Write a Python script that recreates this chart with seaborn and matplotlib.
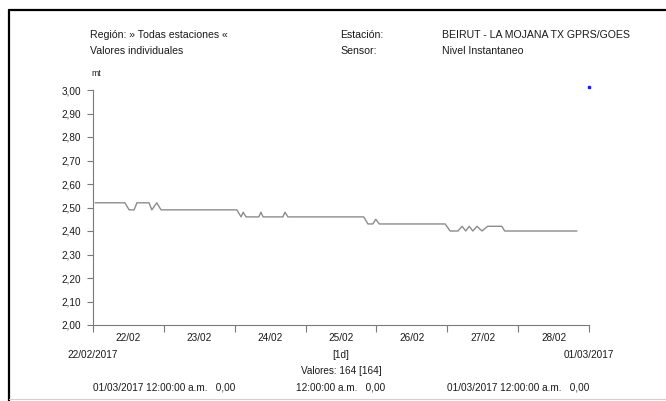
import matplotlib
matplotlib.use("Agg")
import matplotlib.pyplot as plt
import matplotlib.transforms as mtransforms
from matplotlib.lines import Line2D
import numpy as np
import pandas as pd
import seaborn as sns

# dias desde 22/02/2017 00:00
t_dias = [0.03, 0.45, 0.51, 0.58, 0.62, 0.79, 0.83, 0.90, 0.96, 2.03,
          2.09, 2.12, 2.16, 2.34, 2.37, 2.40, 2.68, 2.71, 2.75, 3.82,
          3.88, 3.95, 3.99, 4.04, 4.97, 5.04, 5.15, 5.21, 5.26, 5.31,
          5.36, 5.42, 5.49, 5.57, 5.77, 5.81, 6.83]
nivel = [2.52, 2.52, 2.49, 2.49, 2.52, 2.52, 2.49, 2.52, 2.49, 2.49,
         2.46, 2.48, 2.46, 2.46, 2.48, 2.46, 2.46, 2.48, 2.46, 2.46,
         2.43, 2.43, 2.45, 2.43, 2.43, 2.40, 2.40, 2.42, 2.40, 2.42,
         2.40, 2.42, 2.40, 2.42, 2.42, 2.40, 2.40]
punto_x = [7.0]
punto_y = [3.013]

etiquetas_dia = ["22/02", "23/02", "24/02", "25/02", "26/02", "27/02", "28/02"]
y_ticks = [2.0, 2.1, 2.2, 2.3, 2.4, 2.5, 2.6, 2.7, 2.8, 2.9, 3.0]

GRIS_LINEA = '#8c8c8c'
GRIS_EJE = '#7a7a7a'
TEXTO = '#1a1a1a'
FS = 7.2

sns.set_style("ticks")
plt.rcParams['font.family'] = ['Liberation Sans Narrow', 'Liberation Sans', 'DejaVu Sans']

W, H = 666, 401
fig = plt.figure(figsize=(W / 100, H / 100), dpi=100, facecolor='white')
ax = fig.add_axes([93 / W, 1 - 325 / H, 496 / W, 235 / H])

df = pd.DataFrame({"t": t_dias, "nivel": nivel})
sns.lineplot(data=df, x="t", y="nivel", ax=ax, color=GRIS_LINEA, linewidth=1.0)
ax.plot(punto_x, punto_y, marker='s', markersize=1.6, color='#1a1aff',
        linestyle='none', clip_on=False)

ax.set_xlim(0, 7)
ax.set_ylim(2.0, 3.0)
ax.set_yticks(y_ticks)
ax.set_yticklabels([f"{v:.2f}".replace('.', ',') for v in y_ticks],
                   fontsize=FS, color=TEXTO)
ax.set_xticks(np.arange(0, 8))
ax.set_xticklabels([])
ax.set_xticks(np.arange(len(etiquetas_dia)) + 0.5, minor=True)
ax.set_xticklabels(etiquetas_dia, minor=True, fontsize=FS, color=TEXTO)
ax.tick_params(axis='x', which='major', length=5, width=0.8, color=GRIS_EJE)
ax.tick_params(axis='x', which='minor', length=0, pad=6)
ax.tick_params(axis='y', length=4.5, width=0.8, color=GRIS_EJE, pad=4)
ax.set_xlabel("")
ax.set_ylabel("")
sns.despine(ax=ax)
for s in ['left', 'bottom']:
    ax.spines[s].set_color(GRIS_EJE)
    ax.spines[s].set_linewidth(0.8)

def fy(py):
    return 1 - py / H

# cabecera
FH = 7.6
fig.text(90 / W, fy(35), "Región: » Todas estaciones «", fontsize=FH, color=TEXTO, va='center')
fig.text(90 / W, fy(51), "Valores individuales", fontsize=FH, color=TEXTO, va='center')
fig.text(340 / W, fy(35), "Estación:", fontsize=FH, color=TEXTO, va='center')
fig.text(340 / W, fy(51), "Sensor:", fontsize=FH, color=TEXTO, va='center')
fig.text(442 / W, fy(35), "BEIRUT - LA MOJANA TX GPRS/GOES", fontsize=FH, color=TEXTO, va='center')
fig.text(442 / W, fy(51), "Nivel Instantaneo", fontsize=FH, color=TEXTO, va='center')
fig.text(91 / W, fy(74), "mt", fontsize=6.2, color=TEXTO, va='center')

# pie del eje
tr = mtransforms.blended_transform_factory(ax.transData, fig.transFigure)
ax.text(0, fy(355), "22/02/2017", transform=tr, ha='center', va='center', fontsize=FS, color=TEXTO)
ax.text(7, fy(355), "01/03/2017", transform=tr, ha='center', va='center', fontsize=FS, color=TEXTO)
ax.text(3.5, fy(355), "[1d]", transform=tr, ha='center', va='center', fontsize=FS, color=TEXTO)
ax.text(3.5, fy(371), "Valores: 164 [164]", transform=tr, ha='center', va='center', fontsize=FS, color=TEXTO)
ax.text(0, fy(387), "01/03/2017 12:00:00 a.m.   0,00", transform=tr, ha='left', va='center', fontsize=FS, color=TEXTO)
ax.text(3.5, fy(387), "12:00:00 a.m.   0,00", transform=tr, ha='center', va='center', fontsize=FS, color=TEXTO)
ax.text(7, fy(387), "01/03/2017 12:00:00 a.m.   0,00", transform=tr, ha='right', va='center', fontsize=FS, color=TEXTO)

# marco
fig.add_artist(Line2D([9 / W, 9 / W], [fy(10), 0], color='black', linewidth=1.6))
fig.add_artist(Line2D([9 / W, 1], [fy(10), fy(10)], color='black', linewidth=1.6))
fig.add_artist(Line2D([9 / W, 1], [fy(399), fy(399)], color='#d0d0d0', linewidth=0.8))

plt.savefig('out.png', dpi=100)
